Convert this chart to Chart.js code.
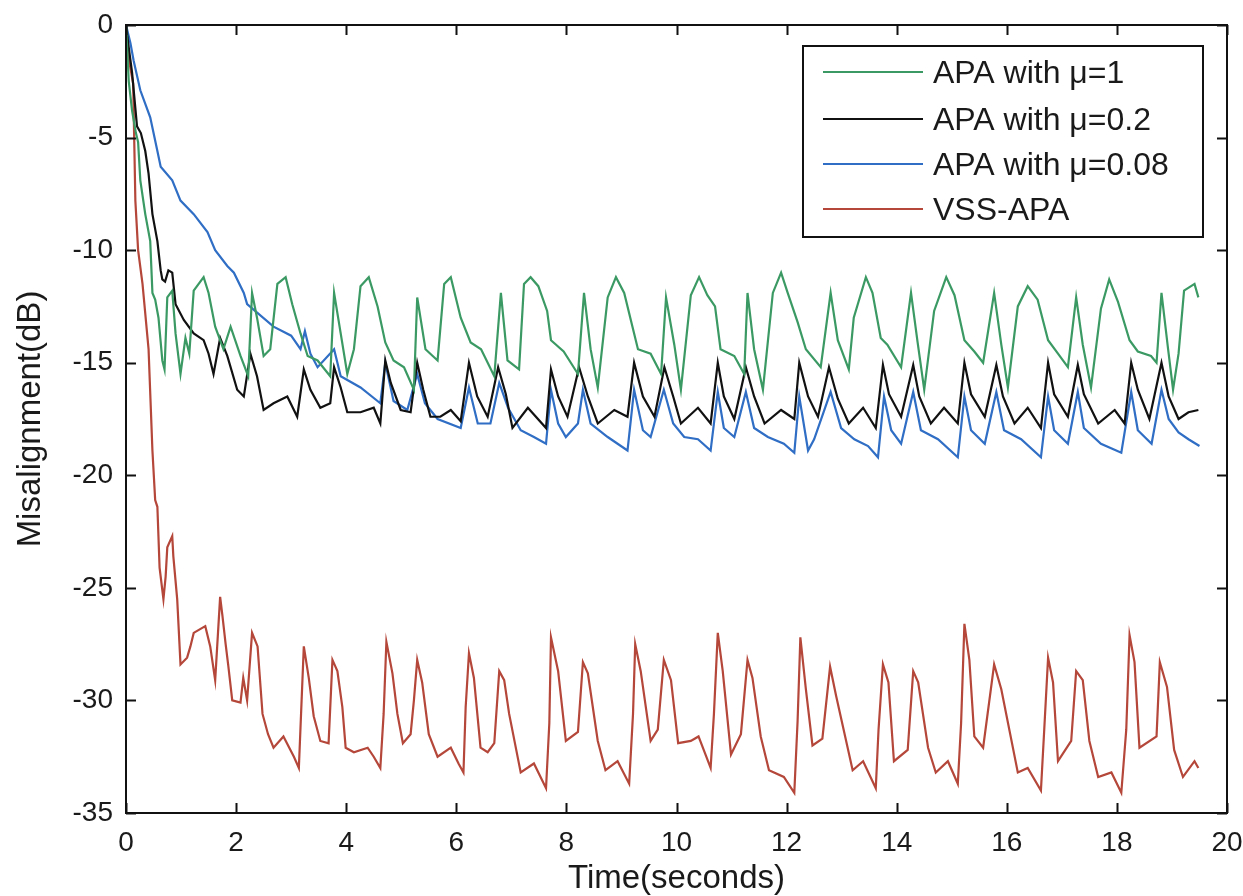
<!DOCTYPE html>
<html>
<head>
<meta charset="utf-8">
<script src="https://cdn.jsdelivr.net/npm/chart.js@4.4.1/dist/chart.umd.min.js"></script>
<style>
  html, body { margin: 0; padding: 0; background: #fff; }
  #wrap { width: 1243px; height: 896px; }
</style>
</head>
<body>
<div id="wrap"><canvas id="misChart" width="1243" height="896"></canvas></div>
<script>
// values: [time (s), misalignment (dB)]
const seriesLabels = ['APA with \u03bc=1', 'APA with \u03bc=0.2', 'APA with \u03bc=0.08', 'VSS-APA'];
const seriesColors = ['#3b9a63', '#111111', '#2f6ec4', '#b4473a'];

const xTicks = [0, 2, 4, 6, 8, 10, 12, 14, 16, 18, 20];
const yTicks = [0, -5, -10, -15, -20, -25, -30, -35];

const apaMu1 = [
  [0,0],[0.05,-2.5],[0.11,-3.8],[0.18,-4.8],[0.22,-5.2],[0.26,-6.9],[0.35,-8.4],[0.44,-9.6],[0.48,-11.9],
  [0.53,-12.2],[0.59,-13.0],[0.66,-14.9],[0.7,-15.3],[0.75,-12.1],[0.84,-11.8],[0.9,-13.7],[0.99,-15.5],
  [1.08,-13.9],[1.15,-14.6],[1.23,-11.8],[1.41,-11.2],[1.5,-11.9],[1.62,-13.4],[1.77,-14.4],[1.9,-13.4],
  [2.08,-14.7],[2.22,-15.6],[2.29,-11.9],[2.38,-13.0],[2.5,-14.7],[2.62,-14.4],[2.75,-11.5],[2.9,-11.2],
  [3.02,-12.4],[3.17,-13.7],[3.3,-14.7],[3.48,-14.9],[3.71,-15.6],[3.78,-11.9],[3.9,-13.7],[4.02,-15.5],
  [4.14,-14.4],[4.26,-11.6],[4.41,-11.2],[4.57,-12.5],[4.71,-14.1],[4.86,-14.9],[5.05,-15.2],[5.23,-16.2],
  [5.29,-12.1],[5.44,-14.4],[5.66,-14.9],[5.78,-11.5],[5.9,-11.2],[6.08,-13.0],[6.26,-14.1],[6.45,-14.4],
  [6.69,-15.6],[6.81,-11.9],[6.93,-14.9],[7.14,-15.3],[7.23,-11.5],[7.35,-11.2],[7.49,-11.6],[7.65,-12.7],
  [7.72,-14.0],[7.95,-14.5],[8.21,-15.5],[8.32,-11.9],[8.44,-14.4],[8.57,-16.1],[8.75,-12.1],[8.9,-11.2],
  [9.05,-11.9],[9.2,-13.4],[9.3,-14.4],[9.53,-14.6],[9.72,-15.5],[9.81,-12.1],[9.96,-14.2],[10.08,-16.2],
  [10.26,-12.0],[10.41,-11.2],[10.56,-12.0],[10.7,-12.5],[10.8,-14.4],[11.05,-14.7],[11.23,-15.5],
  [11.29,-11.9],[11.41,-14.4],[11.57,-16.2],[11.75,-11.9],[11.9,-11.0],[12.02,-11.9],[12.2,-13.2],
  [12.35,-14.4],[12.62,-15.2],[12.8,-11.9],[12.93,-14.0],[13.13,-15.3],[13.22,-13.0],[13.44,-11.2],
  [13.56,-11.9],[13.71,-13.9],[13.83,-14.2],[14.08,-15.2],[14.26,-11.9],[14.38,-14.1],[14.5,-16.2],
  [14.68,-12.7],[14.9,-11.2],[15.05,-12.0],[15.23,-14.0],[15.41,-14.5],[15.57,-15.0],[15.77,-11.9],
  [15.9,-14.2],[16.02,-16.1],[16.2,-12.5],[16.38,-11.6],[16.56,-12.2],[16.75,-14.0],[16.93,-14.6],
  [17.11,-15.2],[17.26,-12.1],[17.38,-14.2],[17.53,-16.1],[17.71,-12.6],[17.86,-11.3],[18.02,-12.3],
  [18.23,-14.0],[18.38,-14.5],[18.62,-14.7],[18.72,-15.0],[18.81,-11.9],[18.93,-14.4],[19.02,-16.2],
  [19.12,-14.6],[19.22,-11.8],[19.41,-11.5],[19.48,-12.1]
];

const apaMu02 = [
  [0,0],[0.05,-1.0],[0.11,-2.1],[0.2,-4.5],[0.27,-4.8],[0.35,-5.6],[0.41,-6.6],[0.48,-8.4],[0.57,-9.6],
  [0.63,-10.9],[0.66,-11.3],[0.71,-11.4],[0.77,-10.9],[0.84,-11.0],[0.9,-12.4],[1.05,-13.1],[1.23,-13.7],
  [1.41,-14.0],[1.5,-14.6],[1.59,-15.5],[1.71,-13.9],[1.84,-14.7],[2.02,-16.2],[2.14,-16.5],[2.26,-14.6],
  [2.38,-15.6],[2.5,-17.1],[2.68,-16.8],[2.93,-16.5],[3.11,-17.4],[3.23,-15.3],[3.35,-16.2],[3.53,-17.0],
  [3.71,-16.8],[3.78,-15.2],[3.9,-16.1],[4.02,-17.2],[4.26,-17.2],[4.5,-17.0],[4.62,-17.7],[4.71,-14.9],
  [4.81,-15.9],[4.99,-17.1],[5.17,-17.2],[5.29,-15.0],[5.4,-16.2],[5.53,-17.4],[5.71,-17.4],[5.9,-17.1],
  [6.08,-17.6],[6.23,-15.0],[6.38,-16.5],[6.57,-17.4],[6.76,-15.2],[6.9,-16.4],[7.02,-17.9],[7.3,-17.0],
  [7.63,-17.9],[7.72,-15.3],[7.85,-16.5],[8.02,-17.4],[8.23,-15.2],[8.39,-16.5],[8.57,-17.7],[8.87,-17.1],
  [9.11,-17.4],[9.23,-15.0],[9.39,-16.5],[9.6,-17.4],[9.78,-15.2],[9.94,-16.5],[10.08,-17.7],[10.39,-17.0],
  [10.62,-17.7],[10.75,-15.0],[10.86,-16.5],[11.05,-17.5],[11.26,-15.2],[11.41,-16.5],[11.6,-17.7],
  [11.9,-17.1],[12.14,-17.5],[12.23,-15.0],[12.39,-16.5],[12.57,-17.4],[12.77,-15.2],[12.93,-16.6],
  [13.13,-17.7],[13.39,-17.0],[13.62,-17.9],[13.75,-15.1],[13.86,-16.4],[14.08,-17.4],[14.3,-15.1],
  [14.41,-16.5],[14.62,-17.7],[14.86,-17.0],[15.11,-17.7],[15.23,-15.0],[15.35,-16.4],[15.6,-17.4],
  [15.81,-15.1],[15.93,-16.5],[16.14,-17.7],[16.38,-17.0],[16.62,-17.9],[16.75,-15.0],[16.86,-16.4],
  [17.11,-17.4],[17.29,-15.1],[17.4,-16.4],[17.66,-17.7],[17.96,-17.1],[18.14,-17.7],[18.26,-15.0],
  [18.38,-16.2],[18.59,-17.5],[18.81,-15.0],[18.94,-16.5],[19.12,-17.5],[19.3,-17.2],[19.48,-17.1]
];

const apaMu008 = [
  [0,0],[0.08,-0.8],[0.14,-1.6],[0.26,-2.9],[0.44,-4.1],[0.57,-5.6],[0.63,-6.3],[0.84,-6.9],[0.99,-7.8],
  [1.23,-8.4],[1.48,-9.2],[1.62,-10.0],[1.84,-10.7],[1.96,-11.0],[2.14,-11.9],[2.2,-12.4],[2.68,-13.4],
  [3.0,-13.8],[3.17,-14.4],[3.25,-13.6],[3.35,-14.6],[3.48,-15.2],[3.78,-14.4],[3.9,-15.6],[4.26,-16.1],
  [4.62,-16.8],[4.71,-15.0],[4.86,-16.7],[5.11,-17.1],[5.29,-15.5],[5.43,-16.8],[5.66,-17.5],[6.08,-17.9],
  [6.23,-16.1],[6.39,-17.7],[6.62,-17.7],[6.78,-15.9],[6.94,-17.0],[7.17,-18.0],[7.41,-18.3],[7.63,-18.6],
  [7.72,-16.2],[7.85,-17.7],[7.99,-18.3],[8.21,-17.7],[8.3,-16.2],[8.44,-17.7],[8.75,-18.3],[9.11,-18.9],
  [9.23,-16.2],[9.39,-18.0],[9.53,-18.3],[9.77,-16.2],[9.94,-17.7],[10.14,-18.3],[10.39,-18.4],
  [10.62,-18.9],[10.75,-16.3],[10.86,-17.9],[11.05,-18.3],[11.26,-16.3],[11.41,-17.9],[11.66,-18.3],
  [11.95,-18.6],[12.14,-19.0],[12.23,-16.5],[12.39,-18.9],[12.5,-18.4],[12.8,-16.3],[12.99,-17.9],
  [13.23,-18.4],[13.48,-18.7],[13.66,-19.2],[13.77,-16.5],[13.9,-18.0],[14.08,-18.6],[14.3,-16.3],
  [14.44,-18.0],[14.75,-18.4],[15.11,-19.2],[15.23,-16.5],[15.35,-18.0],[15.6,-18.6],[15.81,-16.3],
  [15.95,-18.0],[16.26,-18.4],[16.62,-19.2],[16.75,-16.5],[16.86,-18.0],[17.11,-18.6],[17.29,-16.3],
  [17.4,-17.9],[17.71,-18.6],[18.08,-19.0],[18.26,-16.3],[18.38,-18.0],[18.63,-18.6],[18.81,-16.2],
  [18.94,-17.5],[19.12,-18.1],[19.3,-18.4],[19.5,-18.7]
];

const vssApa = [
  [0,0],[0.05,-1.5],[0.13,-2.6],[0.17,-7.8],[0.22,-10],[0.3,-11.5],[0.41,-14.4],[0.48,-18.9],[0.53,-21.1],
  [0.57,-21.4],[0.61,-24.1],[0.68,-25.5],[0.72,-24.5],[0.75,-23.2],[0.84,-22.7],[0.86,-23.6],[0.93,-25.5],
  [0.99,-28.4],[1.11,-28.1],[1.17,-27.6],[1.23,-27.0],[1.44,-26.7],[1.53,-27.6],[1.62,-29.1],[1.71,-25.4],
  [1.75,-26.2],[1.81,-27.5],[1.86,-28.5],[1.93,-30.0],[2.08,-30.1],[2.13,-29.0],[2.2,-30.0],[2.29,-27.0],
  [2.39,-27.6],[2.48,-30.6],[2.58,-31.5],[2.68,-32.1],[2.86,-31.6],[3.05,-32.5],[3.14,-33.0],[3.17,-31.2],
  [3.23,-27.6],[3.32,-29.0],[3.41,-30.7],[3.53,-31.8],[3.68,-31.9],[3.75,-28.2],[3.84,-28.7],[3.93,-30.3],
  [3.99,-32.1],[4.14,-32.3],[4.39,-32.1],[4.5,-32.5],[4.62,-33.0],[4.68,-30.6],[4.73,-27.4],[4.84,-28.8],
  [4.93,-30.6],[5.03,-31.9],[5.17,-31.5],[5.23,-30.0],[5.29,-28.2],[5.38,-29.2],[5.5,-31.5],[5.66,-32.5],
  [5.9,-32.1],[6.04,-32.8],[6.13,-33.2],[6.17,-30.3],[6.23,-27.9],[6.32,-29.0],[6.44,-32.1],[6.57,-32.3],
  [6.69,-31.9],[6.78,-28.7],[6.87,-29.1],[6.96,-30.6],[7.17,-33.2],[7.41,-32.8],[7.63,-33.9],[7.69,-31.0],
  [7.72,-27.2],[7.85,-28.7],[7.99,-31.8],[8.21,-31.4],[8.3,-28.3],[8.39,-28.8],[8.57,-31.8],[8.71,-33.1],
  [8.93,-32.7],[9.14,-33.7],[9.21,-30.6],[9.25,-27.5],[9.35,-28.7],[9.53,-31.8],[9.66,-31.3],[9.77,-28.2],
  [9.9,-29.1],[10.03,-31.9],[10.26,-31.8],[10.4,-31.6],[10.62,-33.0],[10.68,-30.6],[10.75,-27.0],
  [10.84,-28.7],[10.99,-32.4],[11.17,-31.5],[11.29,-28.2],[11.38,-29.0],[11.53,-31.6],[11.68,-33.1],
  [11.95,-33.4],[12.14,-34.1],[12.2,-30.9],[12.25,-27.2],[12.35,-29.5],[12.47,-32.0],[12.65,-31.7],
  [12.79,-28.5],[12.9,-29.8],[13.2,-33.1],[13.39,-32.7],[13.62,-33.9],[13.67,-31.3],[13.75,-28.4],
  [13.85,-29.2],[13.95,-32.7],[14.2,-32.2],[14.3,-28.7],[14.39,-29.2],[14.57,-32.1],[14.71,-33.2],
  [14.93,-32.7],[15.11,-33.7],[15.17,-31.0],[15.23,-26.6],[15.32,-28.2],[15.41,-31.6],[15.57,-32.1],
  [15.77,-28.4],[15.9,-29.5],[16.2,-33.2],[16.38,-33.0],[16.62,-34.0],[16.68,-31.3],[16.75,-28.1],
  [16.84,-29.2],[16.93,-32.7],[17.17,-31.8],[17.26,-28.7],[17.38,-29.1],[17.5,-31.8],[17.66,-33.4],
  [17.9,-33.2],[18.08,-34.1],[18.17,-31.3],[18.23,-27.1],[18.32,-28.3],[18.41,-32.1],[18.72,-31.6],
  [18.78,-28.3],[18.91,-29.4],[19.04,-32.2],[19.2,-33.4],[19.41,-32.7],[19.48,-33.0]
];

const allSeries = [apaMu1, apaMu02, apaMu008, vssApa];

const tickFont = { family: "'Liberation Sans', Arial, sans-serif", size: 28 };
const titleFont = { family: "'Liberation Sans', Arial, sans-serif", size: 33, lineHeight: 1 };

// matlab-style frame, inward ticks and boxed legend
const frameAndLegend = {
    id: 'frameAndLegend',
    afterDatasetsDraw(chart) {
        const { ctx, chartArea: a, scales } = chart;
        ctx.save();
        ctx.strokeStyle = '#111';
        ctx.lineWidth = 2;
        ctx.strokeRect(a.left, a.top, a.right - a.left, a.bottom - a.top);

        const tl = 10;
        ctx.beginPath();
        xTicks.forEach(v => {
            const px = Math.round(scales.x.getPixelForValue(v)) + 0.5;
            ctx.moveTo(px, a.bottom); ctx.lineTo(px, a.bottom - tl);
            ctx.moveTo(px, a.top); ctx.lineTo(px, a.top + tl);
        });
        yTicks.forEach(v => {
            const py = Math.round(scales.y.getPixelForValue(v)) + 0.5;
            ctx.moveTo(a.left, py); ctx.lineTo(a.left + tl, py);
            ctx.moveTo(a.right, py); ctx.lineTo(a.right - tl, py);
        });
        ctx.stroke();

        // legend box
        const bx = 803, by = 46, bw = 400, bh = 191;
        ctx.fillStyle = '#fff';
        ctx.fillRect(bx, by, bw, bh);
        ctx.strokeRect(bx, by, bw, bh);
        const rows = [72, 119, 164, 209];
        ctx.font = "32px 'Liberation Sans', Arial, sans-serif";
        ctx.textBaseline = 'middle';
        ctx.textAlign = 'left';
        chart.data.datasets.forEach((ds, i) => {
            ctx.strokeStyle = ds.borderColor;
            ctx.lineWidth = 2;
            ctx.beginPath();
            ctx.moveTo(823, rows[i]); ctx.lineTo(923, rows[i]);
            ctx.stroke();
            ctx.fillStyle = '#1a1a1a';
            ctx.fillText(ds.label, 933, rows[i] + 2);
        });
        ctx.restore();
    }
};

new Chart(document.getElementById('misChart'), {
    type: 'line',
    data: {
        datasets: allSeries.map((s, i) => ({
            label: seriesLabels[i],
            data: s.map(([x, y]) => ({ x, y })),
            borderColor: seriesColors[i],
            borderWidth: 2.2,
            pointRadius: 0,
            tension: 0,
            fill: false
        }))
    },
    options: {
        responsive: false,
        animation: false,
        layout: { padding: { top: 25, right: 16, left: 0, bottom: 0 } },
        plugins: { legend: { display: false }, tooltip: { enabled: false } },
        scales: {
            x: {
                type: 'linear',
                min: 0, max: 20,
                afterFit: s => { s.height = 83; s.paddingLeft = 0; s.paddingRight = 0; },
                afterBuildTicks: s => { s.ticks = xTicks.map(v => ({ value: v })); },
                grid: { display: false },
                border: { display: false },
                ticks: { font: tickFont, color: '#1a1a1a', padding: 5, maxRotation: 0 },
                title: { display: true, text: 'Time(seconds)', font: titleFont, color: '#1a1a1a', padding: { top: 0, bottom: 1 } }
            },
            y: {
                type: 'linear',
                min: -35, max: 0,
                afterFit: s => { s.width = 126; s.paddingTop = 0; s.paddingBottom = 0; },
                afterBuildTicks: s => { s.ticks = yTicks.map(v => ({ value: v })); },
                grid: { display: false },
                border: { display: false },
                ticks: { font: tickFont, color: '#1a1a1a', padding: 5 },
                title: { display: true, text: 'Misalignment(dB)', font: titleFont, color: '#1a1a1a', padding: { top: 14, bottom: 0 } }
            }
        }
    },
    plugins: [frameAndLegend]
});
</script>
</body>
</html>
